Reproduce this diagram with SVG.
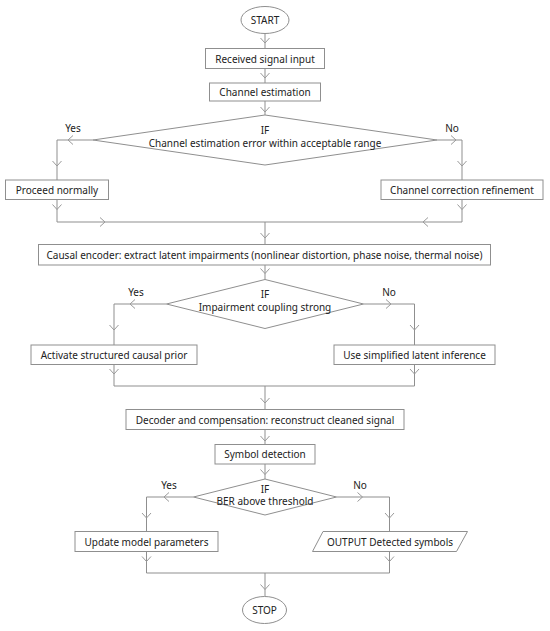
<svg xmlns="http://www.w3.org/2000/svg" xmlns:xlink="http://www.w3.org/1999/xlink" width="550" height="631" viewBox="0 0 550 631">
<style>
.shape{fill:#fff;stroke:#8f8f8f;stroke-width:1}
.ln{fill:none;stroke:#8f8f8f;stroke-width:1}
.ch{fill:none;stroke:#9a9a9a;stroke-width:1}
text{font-family:"Noto Sans","Open Sans","DejaVu Sans",sans-serif;font-size:10px;fill:#222;text-anchor:middle;dominant-baseline:central}
</style>
<defs>
<path id="cd" class="ch" d="M-4.5,-5 L0,0 L4.5,-5"/>
<path id="cl" class="ch" d="M5,-4.5 L0,0 L5,4.5"/>
<path id="cr" class="ch" d="M-5,-4.5 L0,0 L-5,4.5"/>
</defs>
<rect width="550" height="631" fill="#fff"/>
<g id="connectors">
<path class="ln" d="M265,33.5V48.5M265,68.5V83M265,101V115"/>
<path class="ln" d="M93,140H57V180M437,140H462V180"/>
<path class="ln" d="M57,199.5V222H462V199.5M265,222V244.5M265,265V279.5"/>
<path class="ln" d="M166.5,304H114V345M363.5,304H414.5V345"/>
<path class="ln" d="M114,364.5V386H414.5V364.5M265,386V409.5M265,429.5V444.5M265,464V479"/>
<path class="ln" d="M193.5,497H146.5V531.5M336.5,497H389.5V531.5"/>
<path class="ln" d="M146.5,551.5V573H389.5V551.5M265,573V596.5"/>
<use xlink:href="#cd" x="265" y="43"/>
<use xlink:href="#cd" x="265" y="78"/>
<use xlink:href="#cd" x="265" y="112"/>
<use xlink:href="#cl" x="68" y="140"/>
<use xlink:href="#cr" x="456" y="140"/>
<use xlink:href="#cd" x="57" y="166"/>
<use xlink:href="#cd" x="462" y="166"/>
<use xlink:href="#cd" x="57" y="209.5"/>
<use xlink:href="#cd" x="462" y="209.5"/>
<use xlink:href="#cr" x="105" y="222"/>
<use xlink:href="#cl" x="423" y="222"/>
<use xlink:href="#cd" x="265" y="238"/>
<use xlink:href="#cd" x="265" y="273.5"/>
<use xlink:href="#cl" x="130" y="304"/>
<use xlink:href="#cr" x="391" y="304"/>
<use xlink:href="#cd" x="114" y="330"/>
<use xlink:href="#cd" x="414.5" y="330"/>
<use xlink:href="#cd" x="114" y="374"/>
<use xlink:href="#cd" x="414.5" y="374"/>
<use xlink:href="#cd" x="265" y="403"/>
<use xlink:href="#cd" x="265" y="441"/>
<use xlink:href="#cd" x="265" y="474.5"/>
<use xlink:href="#cl" x="164" y="497"/>
<use xlink:href="#cr" x="362.5" y="497"/>
<use xlink:href="#cd" x="146.5" y="518"/>
<use xlink:href="#cd" x="389.5" y="518"/>
<use xlink:href="#cd" x="146.5" y="561.5"/>
<use xlink:href="#cd" x="389.5" y="561.5"/>
<use xlink:href="#cd" x="265" y="589.5"/>
<text x="73" y="127.5">Yes</text>
<text x="452" y="127.5">No</text>
<text x="136" y="292">Yes</text>
<text x="389" y="292">No</text>
<text x="169" y="485">Yes</text>
<text x="360" y="485">No</text>
</g>
<g id="start"><ellipse class="shape" cx="265" cy="20" rx="24" ry="13.5"/><text x="265" y="20">START</text></g>
<g id="received"><rect class="shape" x="205.5" y="48.5" width="119" height="20"/><text x="265" y="58.5">Received signal input</text></g>
<g id="chanest"><rect class="shape" x="209.5" y="83" width="111" height="18"/><text x="265" y="92">Channel estimation</text></g>
<g id="if1"><polygon class="shape" points="265,115 437,140 265,165 93,140"/><text x="265" y="130">IF</text><text x="265" y="142.5">Channel estimation error within acceptable range</text></g>
<g id="proceed"><rect class="shape" x="5.5" y="180" width="103" height="19.5"/><text x="57" y="189.75">Proceed normally</text></g>
<g id="correction"><rect class="shape" x="381" y="180" width="162" height="19.5"/><text x="462" y="189.75">Channel correction refinement</text></g>
<g id="encoder"><rect class="shape" x="38.5" y="244.5" width="452" height="20.5"/><text x="264.5" y="254.75">Causal encoder: extract latent impairments (nonlinear distortion, phase noise, thermal noise)</text></g>
<g id="if2"><polygon class="shape" points="265,279.5 363.5,304 265,328.5 166.5,304"/><text x="265" y="293.5">IF</text><text x="265" y="306.5">Impairment coupling strong</text></g>
<g id="activate"><rect class="shape" x="31" y="345" width="166" height="19.5"/><text x="114" y="354.75">Activate structured causal prior</text></g>
<g id="simplified"><rect class="shape" x="334" y="345" width="161" height="19.5"/><text x="414.5" y="354.75">Use simplified latent inference</text></g>
<g id="decoder"><rect class="shape" x="126" y="409.5" width="278" height="20"/><text x="265" y="419.5">Decoder and compensation: reconstruct cleaned signal</text></g>
<g id="symbol"><rect class="shape" x="215" y="444.5" width="100" height="19.5"/><text x="265" y="454.25">Symbol detection</text></g>
<g id="if3"><polygon class="shape" points="265,479 336.5,497 265,515 193.5,497"/><text x="265" y="488.5">IF</text><text x="265" y="501">BER above threshold</text></g>
<g id="update"><rect class="shape" x="75" y="531.5" width="143" height="20"/><text x="146.5" y="541.5">Update model parameters</text></g>
<g id="output"><polygon class="shape" points="323,531.5 467.5,531.5 456.5,551.5 312.5,551.5"/><text x="390" y="541.5">OUTPUT Detected symbols</text></g>
<g id="stop"><ellipse class="shape" cx="264.5" cy="610" rx="22" ry="13.5"/><text x="264.5" y="610">STOP</text></g>
</svg>
